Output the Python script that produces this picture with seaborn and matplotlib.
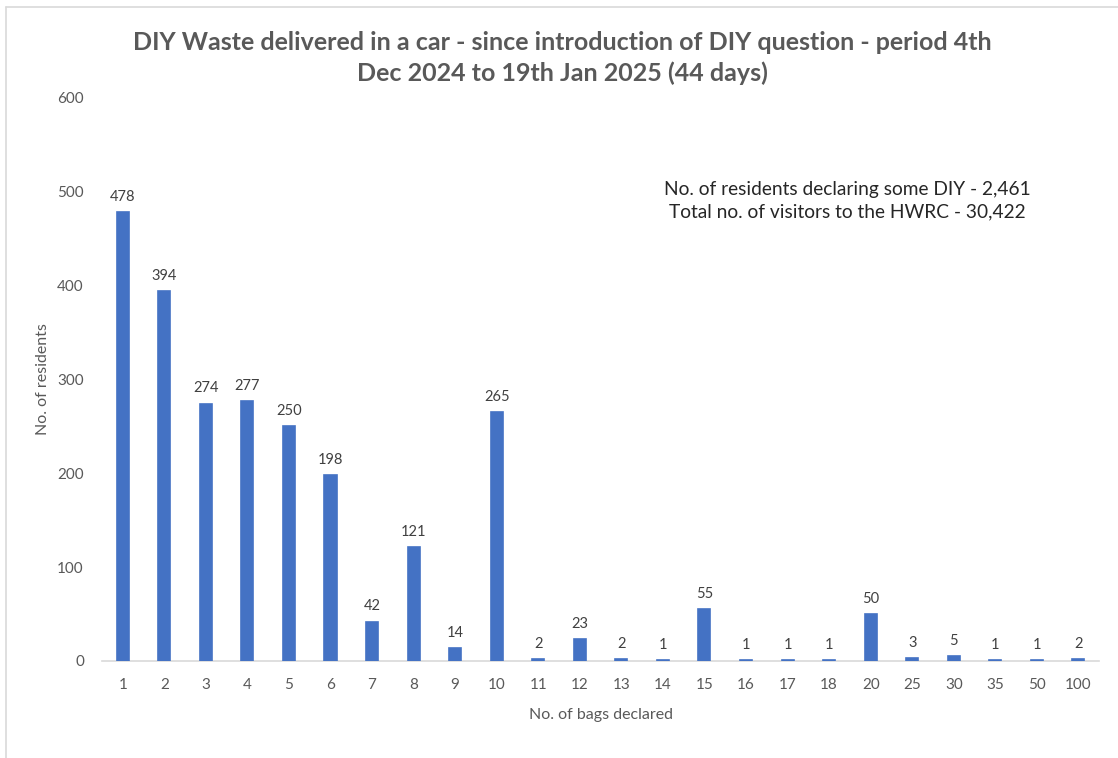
"""
DIY waste delivered in a car - bar chart of bags declared per resident
"""

import matplotlib
matplotlib.use('Agg')
import matplotlib.pyplot as plt
from matplotlib.lines import Line2D
import pandas as pd
import seaborn as sns

# Data
bags_declared = ['1', '2', '3', '4', '5', '6', '7', '8', '9', '10', '11', '12',
                 '13', '14', '15', '16', '17', '18', '20', '25', '30', '35', '50', '100']
residents = [478, 394, 274, 277, 250, 198, 42, 121, 14, 265, 2, 23,
             2, 1, 55, 1, 1, 1, 50, 3, 5, 1, 1, 2]
y_ticks = [0, 100, 200, 300, 400, 500, 600]

title_text = ("DIY Waste delivered in a car - since introduction of DIY question - period 4th\n"
              "Dec 2024 to 19th Jan 2025 (44 days)")
note_text = ("No. of residents declaring some DIY - 2,461\n"
             "Total no. of visitors to the HWRC - 30,422")

df = pd.DataFrame({'bags': bags_declared, 'residents': residents})

sns.set_style('white')
plt.rcParams['font.family'] = ['Lato', 'DejaVu Sans']

BAR_COLOR = '#4472C4'
TEXT_GREY = '#595959'

fig = plt.figure(figsize=(11.18, 7.58), dpi=100)
ax = fig.add_axes([0.0912, 0.128, 0.892, 0.743])

# thin edge in bar colour so the 1-2 resident bars stay visible
sns.barplot(data=df, x='bags', y='residents', order=bags_declared,
            color=BAR_COLOR, width=0.29, saturation=1, ax=ax, zorder=3,
            edgecolor=BAR_COLOR, linewidth=1.2)

# value labels
for container in ax.containers:
    ax.bar_label(container, padding=6, fontsize=10.5, color='#404040')

ax.set_xlim(-0.5, len(bags_declared) - 0.5)
ax.set_ylim(0, 600)
ax.set_yticks(y_ticks)

sns.despine(ax=ax, left=True, top=True, right=True, bottom=False)
ax.spines['bottom'].set_color('#d9d9d9')
ax.spines['bottom'].set_linewidth(1.2)
ax.spines['bottom'].set_zorder(2)

ax.tick_params(axis='x', length=0, pad=12, labelsize=11, labelcolor=TEXT_GREY)
ax.tick_params(axis='y', length=0, pad=13, labelsize=11, labelcolor=TEXT_GREY)

ax.set_xlabel('No. of bags declared', fontsize=11.5, color=TEXT_GREY, labelpad=12)
ax.set_ylabel('No. of residents', fontsize=11.5, color=TEXT_GREY, labelpad=5)

fig.text(0.503, 0.9235, title_text, ha='center', va='center', fontsize=18,
         fontweight='bold', color=TEXT_GREY, linespacing=1.4)

ax.text(0.747, 0.817, note_text, transform=ax.transAxes, ha='center', va='center',
        fontsize=13.8, color='#262626', linespacing=1.4)

# chart frame (left and top edges)
fig.add_artist(Line2D([0.005, 1.0], [0.991, 0.991], color='#d9d9d9', lw=1.2,
                      transform=fig.transFigure))
fig.add_artist(Line2D([0.005, 0.005], [0.0, 0.991], color='#d9d9d9', lw=1.2,
                      transform=fig.transFigure))

plt.savefig('out.png', dpi=100)
plt.close()
